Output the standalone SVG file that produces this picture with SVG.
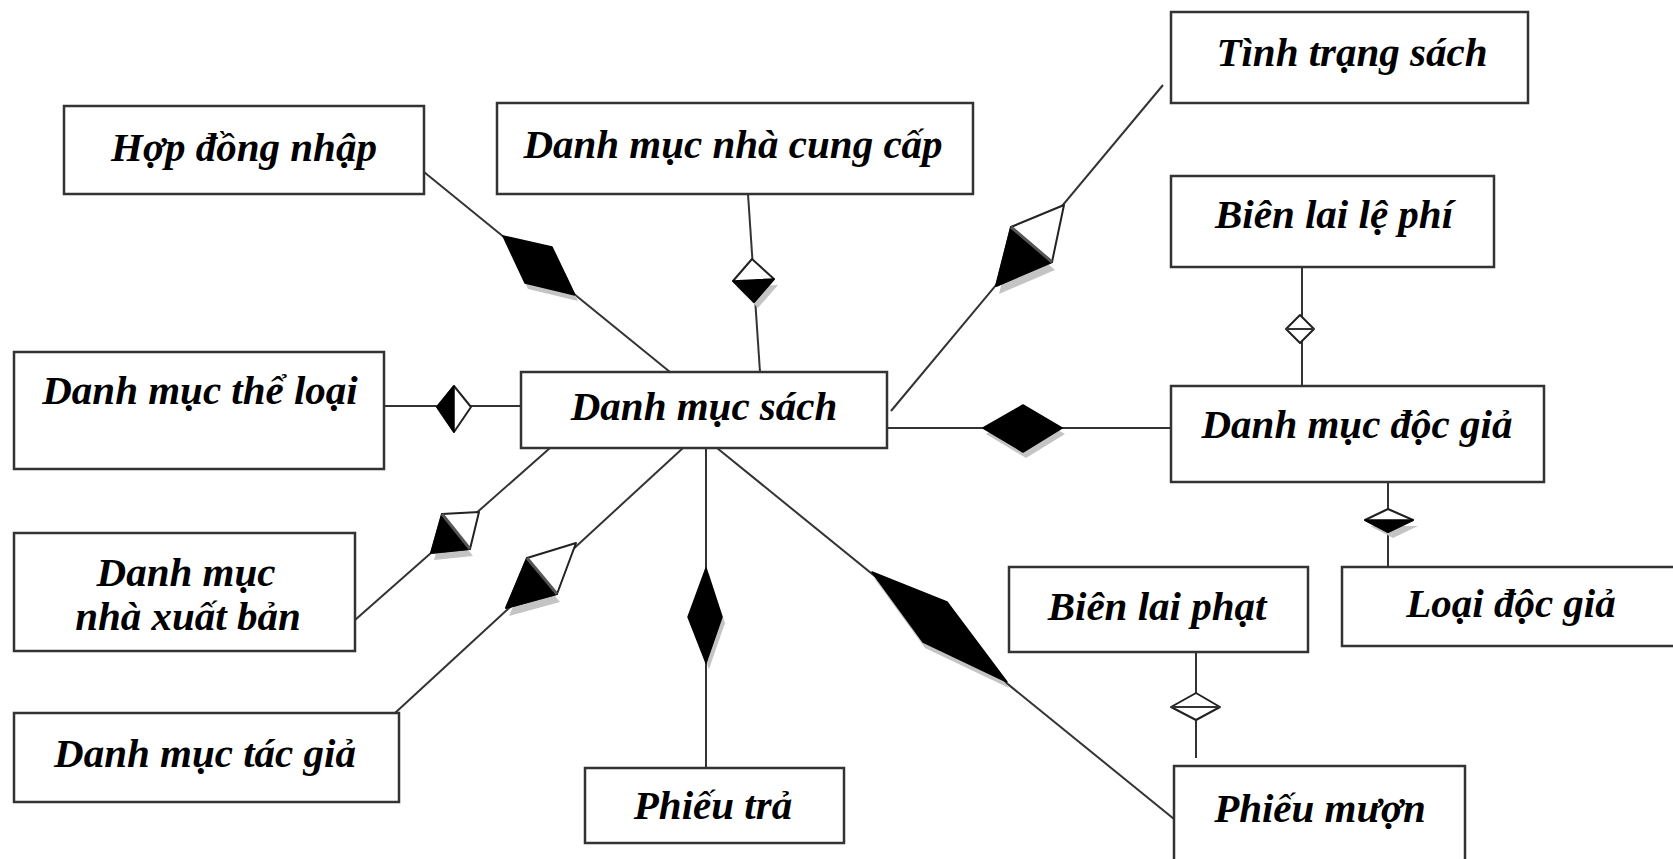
<svg xmlns="http://www.w3.org/2000/svg" width="1673" height="859" viewBox="0 0 1673 859">
<style>
.box{fill:#fff;stroke:#333;stroke-width:2.5}
.lbl{font-family:"Liberation Serif","Times New Roman",serif;font-style:italic;font-weight:bold;font-size:41px;fill:#000;text-anchor:middle}
.ln{stroke:#333;stroke-width:2;fill:none}
.blk{fill:#000;stroke:#000;stroke-width:1.5;stroke-linejoin:round}
.wht{fill:#fff;stroke:#222;stroke-width:2;stroke-linejoin:round}
.sh{fill:#c4c4c4}
</style>
<rect width="1673" height="859" fill="#fff"/>
<g id="connectors">
  <!-- Hop dong nhap -->
  <line class="ln" x1="424" y1="172" x2="670" y2="372"/>
  <polygon class="sh" transform="translate(3,6)" points="503,236 552,247 575,295 525,283"/>
  <polygon class="blk" points="503,236 552,247 575,295 525,283"/>
  <!-- Nha cung cap -->
  <line class="ln" x1="748" y1="194" x2="760" y2="372"/>
  <polygon class="sh" transform="translate(4,6)" points="733,281 774,279 754,302"/>
  <polygon class="wht" points="752,259 774,279 754,302 733,281"/>
  <polygon class="blk" points="733,281 774,279 754,302"/>
  <!-- Tinh trang sach -->
  <line class="ln" x1="891" y1="411" x2="1163" y2="85"/>
  <polygon class="sh" transform="translate(3,8)" points="1011,227 996,286 1052,262"/>
  <polygon class="wht" points="996,286 1011,227 1064,205 1052,262"/>
  <polygon class="blk" points="1011,227 996,286 1052,262"/>
  <line x1="1011" y1="227" x2="1052" y2="262" stroke="#555" stroke-width="3"/>
  <!-- Bien lai le phi -->
  <line class="ln" x1="1302" y1="267" x2="1302" y2="386"/>
  <polygon class="wht" points="1300,315 1314,329 1300,343 1286,329"/>
  <line class="ln" x1="1286" y1="329" x2="1314" y2="329"/>
  <!-- The loai -->
  <line class="ln" x1="384" y1="406" x2="521" y2="406"/>
  <polygon class="wht" points="437,407 454,386 471,407 454,432"/>
  <polygon class="blk" points="437,407 454,386 454,432"/>
  <!-- Doc gia - sach -->
  <line class="ln" x1="887" y1="428" x2="1171" y2="428"/>
  <polygon class="sh" transform="translate(3,6)" points="983,428 1023,405 1062,428 1023,452"/>
  <polygon class="blk" points="983,428 1023,405 1062,428 1023,452"/>
  <!-- Doc gia - loai doc gia -->
  <line class="ln" x1="1388" y1="482" x2="1388" y2="568"/>
  <polygon class="sh" transform="translate(5,6)" points="1365,520 1413,520 1388,532"/>
  <polygon class="wht" points="1388,509 1413,520 1388,532 1365,520"/>
  <polygon class="blk" points="1365,520 1413,520 1388,532"/>
  <!-- NXB -->
  <line class="ln" x1="355" y1="620" x2="550" y2="448"/>
  <polygon class="sh" transform="translate(3,7)" points="442,514 431,553 470,549"/>
  <polygon class="wht" points="431,553 442,514 479,512 470,549"/>
  <polygon class="blk" points="442,514 431,553 470,549"/>
  <line x1="442" y1="514" x2="470" y2="549" stroke="#555" stroke-width="3"/>
  <!-- Tac gia -->
  <line class="ln" x1="395" y1="713" x2="683" y2="448"/>
  <polygon class="sh" transform="translate(3,8)" points="527,558 506,608 557,594"/>
  <polygon class="wht" points="506,608 527,558 576,543 557,594"/>
  <polygon class="blk" points="527,558 506,608 557,594"/>
  <line x1="527" y1="558" x2="557" y2="594" stroke="#555" stroke-width="3"/>
  <!-- Phieu tra -->
  <line class="ln" x1="706" y1="448" x2="706" y2="768"/>
  <polygon class="sh" transform="translate(3,6)" points="706,568 722,617 706,663 688,617"/>
  <polygon class="blk" points="706,568 722,617 706,663 688,617"/>
  <!-- Phieu muon -->
  <line class="ln" x1="717" y1="448" x2="1174" y2="819"/>
  <polygon class="sh" transform="translate(2,6)" points="872,572 947,602 1007,682 923,642"/>
  <polygon class="blk" points="872,572 947,602 1007,682 923,642"/>
  <!-- Bien lai phat -->
  <line class="ln" x1="1196" y1="652" x2="1196" y2="758"/>
  <polygon class="wht" points="1196,693 1220,707 1196,720 1171,707"/>
  <line class="ln" x1="1171" y1="707" x2="1220" y2="707"/>
</g>
<g id="hop-dong-nhap"><rect class="box" x="64" y="106" width="360" height="88"/><text class="lbl" x="244" y="161">Hợp đồng nhập</text></g>
<g id="danh-muc-nha-cung-cap"><rect class="box" x="497" y="103" width="476" height="91"/><text class="lbl" x="733" y="158">Danh mục nhà cung cấp</text></g>
<g id="tinh-trang-sach"><rect class="box" x="1171" y="12" width="357" height="91"/><text class="lbl" x="1352" y="66">Tình trạng sách</text></g>
<g id="bien-lai-le-phi"><rect class="box" x="1171" y="176" width="323" height="91"/><text class="lbl" x="1334" y="228">Biên lai lệ phí</text></g>
<g id="danh-muc-the-loai"><rect class="box" x="14" y="352" width="370" height="117"/><text class="lbl" x="200" y="404">Danh mục thể loại</text></g>
<g id="danh-muc-sach"><rect class="box" x="521" y="372" width="366" height="76"/><text class="lbl" x="704" y="420">Danh mục sách</text></g>
<g id="danh-muc-doc-gia"><rect class="box" x="1171" y="386" width="373" height="96"/><text class="lbl" x="1357" y="438">Danh mục độc giả</text></g>
<g id="danh-muc-nha-xuat-ban"><rect class="box" x="14" y="533" width="341" height="118"/><text class="lbl" x="186" y="586">Danh mục</text><text class="lbl" x="188" y="630">nhà xuất bản</text></g>
<g id="danh-muc-tac-gia"><rect class="box" x="14" y="713" width="385" height="89"/><text class="lbl" x="205" y="767">Danh mục tác giả</text></g>
<g id="phieu-tra"><rect class="box" x="585" y="768" width="259" height="75"/><text class="lbl" x="713" y="819">Phiếu trả</text></g>
<g id="phieu-muon"><rect class="box" x="1174" y="766" width="291" height="100"/><text class="lbl" x="1320" y="822">Phiếu mượn</text></g>
<g id="bien-lai-phat"><rect class="box" x="1009" y="567" width="299" height="85"/><text class="lbl" x="1157" y="620">Biên lai phạt</text></g>
<g id="loai-doc-gia"><rect class="box" x="1342" y="567" width="340" height="79"/><text class="lbl" x="1511" y="617">Loại độc giả</text></g>
</svg>
